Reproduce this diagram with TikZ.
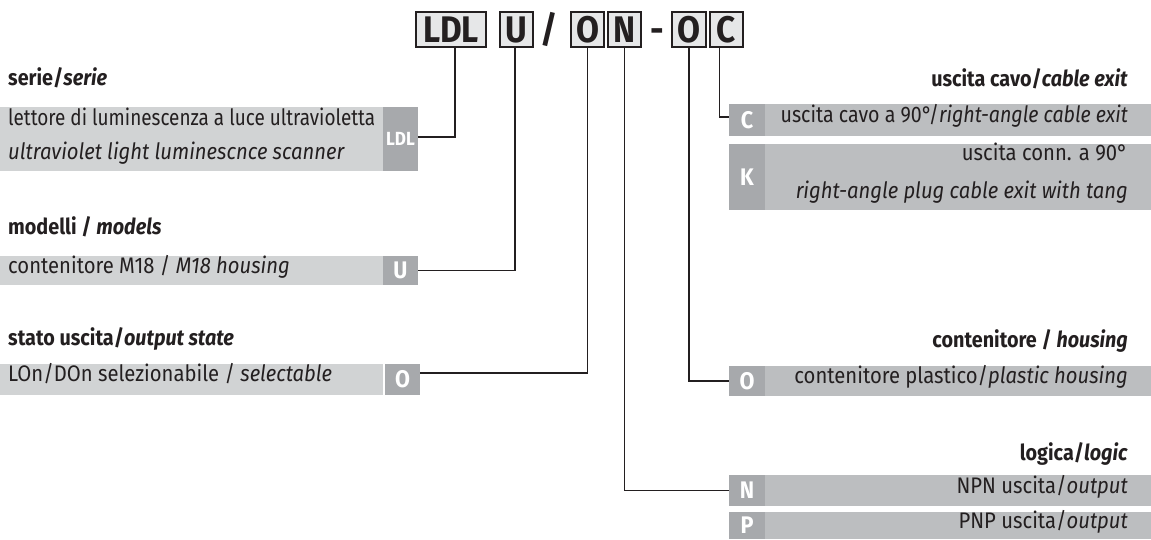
\documentclass[tikz,border=0pt]{standalone}
\usepackage{fontspec}
\usepackage{graphicx}
\setmainfont{Fira Sans}[FakeStretch=0.9]
\usetikzlibrary{calc}
\definecolor{ink}{HTML}{231F20}
\definecolor{boxfill}{HTML}{E6E7E8}
\definecolor{lgray}{HTML}{D1D3D4}
\definecolor{rgray}{HTML}{BCBEC0}
\definecolor{tgray}{HTML}{A7A9AC}
\begin{document}
\begin{tikzpicture}[x=1pt,y=-1pt,
  codebox/.style={draw=ink, line width=1.3pt, fill=boxfill, inner sep=0pt, minimum height=35pt,
    font=\fontsize{37}{37}\selectfont\bfseries, text=ink},
  codesep/.style={inner sep=0pt, anchor=base, font=\fontsize{37}{37}\selectfont\bfseries, text=ink},
  lband/.style={fill=lgray, inner sep=0pt, minimum width=383pt},
  rband/.style={fill=rgray, inner sep=0pt, minimum width=422pt},
  tag/.style={fill=tgray, inner sep=0pt, minimum width=35pt, text=white,
    font=\fontsize{24}{24}\selectfont\bfseries},
  ltxt/.style={anchor=mid west, inner sep=0pt, text=ink, font=\fontsize{22.5}{22.5}\selectfont},
  rtxt/.style={anchor=mid east, inner sep=0pt, text=ink, font=\fontsize{22.5}{22.5}\selectfont},
  ltitle/.style={anchor=mid west, inner sep=0pt, text=ink, font=\fontsize{22}{22}\selectfont\bfseries},
  rtitle/.style={anchor=mid east, inner sep=0pt, text=ink, font=\fontsize{22}{22}\selectfont\bfseries},
  conn/.style={draw=ink, line width=1.8pt}
]
\useasboundingbox (0,0) rectangle (1151,539);

% code boxes
\node[codebox, minimum width=70pt] (bLDL) at (451,29.5) {LDL};
\node[codebox, minimum width=33pt] (bU) at (516.5,29.5) {U};
\node[codesep] (slash) at (549,42) {/};
\node[codebox, minimum width=33pt] (bO) at (587.5,29.5) {O};
\node[codebox, minimum width=33pt] (bN) at (624.5,29.5) {N};
\node[codesep] (dash1) at (657,42) {-};
\node[codebox, minimum width=34pt] (bO2) at (689,29.5) {O};
\node[codebox, minimum width=33pt] (bC) at (726.5,29.5) {C};

% left: serie
\node[ltitle] (hSerie) at (8,83) {serie/\textit{serie}};
\node[lband, minimum height=64pt] (lbLDL) at (191.5,139) {};
\node[tag, minimum height=64pt, font=\fontsize{19}{19}\selectfont\bfseries] (tLDL) at (400.5,139) {LDL};
\node[ltxt] (xLDL1) at (8,123) {\scalebox{0.935}[1]{lettore di luminescenza a luce ultravioletta}};
\node[ltxt] (xLDL2) at (8,157) {\textit{ultraviolet light luminescnce scanner}};

% left: modelli
\node[ltitle] (hMod) at (8,232) {modelli / \textit{models}};
\node[lband, minimum height=29pt] (lbU) at (191.5,270.5) {};
\node[tag, minimum height=29pt] (tU) at (400.5,270.5) {U};
\node[ltxt] (xU) at (8,270.5) {contenitore M18 / \textit{M18 housing}};

% left: stato uscita
\node[ltitle] (hStato) at (8,343) {stato uscita/\textit{output state}};
\node[lband, minimum height=31pt] (lbO) at (191.5,379) {};
\node[tag, minimum height=31pt] (tO) at (402.5,379) {O};
\node[ltxt] (xO) at (8,379) {LOn/DOn selezionabile / \textit{selectable}};

% right: uscita cavo
\node[rtitle] (hCavo) at (1128,84) {uscita cavo/\textit{cable exit}};
\node[rband, minimum height=32pt] (rbC) at (940,120) {};
\node[tag, minimum width=36pt, minimum height=32pt] (tC) at (747,120) {C};
\node[rtxt] (xC) at (1128,120) {\scalebox{0.97}[1]{uscita cavo a 90°/\textit{right-angle cable exit}}};
\node[rband, minimum height=66pt] (rbK) at (940,177) {};
\node[tag, minimum width=36pt, minimum height=66pt] (tK) at (747,177) {K};
\node[rtxt] (xK1) at (1128,158) {uscita conn. a 90°};
\node[rtxt] (xK2) at (1128,196) {\textit{right-angle plug cable exit with tang}};

% right: contenitore
\node[rtitle] (hCont) at (1128,345) {contenitore / \textit{housing}};
\node[rband, minimum height=30pt] (rbO2) at (940,381) {};
\node[tag, minimum width=36pt, minimum height=30pt] (tO2) at (747,381) {O};
\node[rtxt] (xO2) at (1128,381) {contenitore plastico/\textit{plastic housing}};

% right: logica
\node[rtitle] (hLog) at (1128,458) {logica/\textit{logic}};
\node[rband, minimum height=31pt] (rbN) at (940,490.5) {};
\node[tag, minimum width=36pt, minimum height=31pt] (tN) at (747,490.5) {N};
\node[rtxt] (xN) at (1128,490.5) {NPN uscita/\textit{output}};
\node[rband, minimum height=27pt] (rbP) at (940,525.5) {};
\node[tag, minimum width=36pt, minimum height=27pt] (tP) at (747,525.5) {P};
\node[rtxt] (xP) at (1128,525.5) {PNP uscita/\textit{output}};

% connectors
\draw[conn] ([xshift=4pt]bLDL.south) |- ([yshift=2pt]tLDL.east);
\draw[conn] ([xshift=-1.5pt]bU.south) |- (tU.east);
\draw[conn] (bO.south) |- ([yshift=6pt]tO.east);
\draw[conn] (bN.south) |- (tN.west);
\draw[conn] (bO2.south) |- (tO2.west);
\draw[conn] ([xshift=-7pt]bC.south) |- ([yshift=3pt]tC.west);
\end{tikzpicture}
\end{document}
